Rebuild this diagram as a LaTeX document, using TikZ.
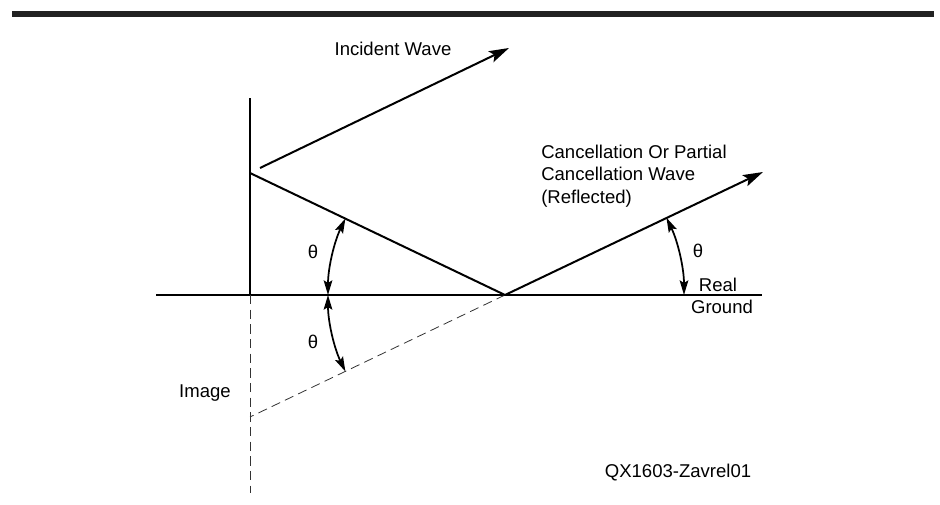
\documentclass[tikz,border=0pt]{standalone}
\usepackage{fontspec}
\setmainfont{Liberation Sans}
\usepackage{tikz}
\usetikzlibrary{arrows.meta,positioning,calc}
\definecolor{BarGray}{HTML}{222222}
\definecolor{DashGray}{HTML}{333333}

\begin{document}
\begin{tikzpicture}[x=.75pt,y=.75pt,>=Stealth,
  font=\fontsize{13.9}{16.9}\selectfont,
  wave/.style={line width=1.5pt},
  wavearrow/.style={wave,-{Stealth[length=15pt,width=9pt,inset=3pt]}},
  anglemark/.style={line width=1.3pt,{Stealth[length=11pt,width=6.5pt,inset=2pt]}-{Stealth[length=11pt,width=6.5pt,inset=2pt]}},
  mirror/.style={line width=.6pt,DashGray,dash pattern=on 7pt off 4pt},
  lbl/.style={inner sep=0pt}]
  \useasboundingbox (0,0) rectangle (940,504);
  \fill[BarGray] (12,487) rectangle (934,493);
  % points of the geometry
  \coordinate (gndL) at (156,209);
  \coordinate (gndR) at (762,209);
  \coordinate (antTop) at (250,406);
  \coordinate (antBase) at (250,209);
  \coordinate (antBot) at (250,11);
  \coordinate (feed) at (250,331);
  \coordinate (refl) at (505,209);
  \coordinate (img) at (250,87);
  \coordinate (incS) at (260,336);
  \coordinate (incE) at (509,456);
  \coordinate (refE) at (763,332);
  \draw[wave] (gndL) -- (gndR);
  \draw[wave] (antBase) -- (antTop);
  \draw[mirror] (antBase) -- (antBot);
  \draw[mirror] (refl) -- (img);
  \draw[wave] (feed) -- (refl);
  \draw[wavearrow] (incS) -- (incE);
  \draw[wavearrow] (refl) -- (refE);
  % angle arcs round the point of reflection
  \coordinate (arcUp) at ($(refl)+(154.4:177)$);
  \coordinate (arcMid) at ($(refl)+(180:177)$);
  \coordinate (arcRt) at ($(refl)+(25.6:179)$);
  \draw[anglemark] (arcUp) arc[start angle=154.4,end angle=180,radius=177];
  \draw[anglemark] (arcMid) arc[start angle=180,end angle=205.6,radius=177];
  \draw[anglemark] (arcRt) arc[start angle=25.6,end angle=0,radius=179];
  % labels
  \node[lbl] (incident) at (393,455) {Incident Wave};
  \node[lbl,align=left,anchor=west] (cancel) at (541,328)
    {Cancellation Or Partial\\Cancellation Wave\\(Reflected)};
  \node[lbl] (thetaUp) at (313,252) {θ};
  \node[lbl] (thetaDn) at (313,162) {θ};
  \node[lbl] (thetaRt) at (698,253) {θ};
  \node[lbl] (real) at (718,219) {Real};
  \node[lbl] (ground) at (722,197) {Ground};
  \node[lbl] (image) at (205,111) {Image};
  \node[lbl] (figid) at (678,31) {QX1603-Zavrel01};
\end{tikzpicture}
\end{document}
